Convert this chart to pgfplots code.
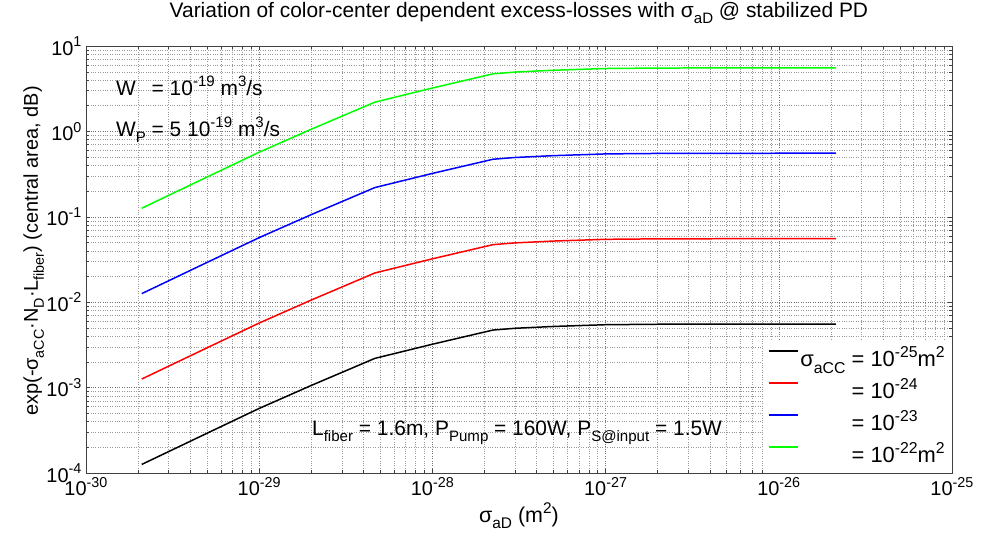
\documentclass[border=0pt]{standalone}
\usepackage{fontspec}
\setmainfont{Liberation Sans}
\usepackage{graphicx}
\usepackage{pgfplots}
\pgfplotsset{compat=1.18}
\newcommand\sbs[1]{\raisebox{-0.30em}{\scalebox{0.72}{#1}}}
\newcommand\sps[1]{\raisebox{0.42em}{\scalebox{0.72}{#1}}}
\pgfplotsset{legend image code/.code={\draw[#1] (0bp,8bp) -- (29bp,8bp);}}
\begin{document}
\begin{tikzpicture}
\begin{axis}[
 name=ax,
 xmode=log, ymode=log,
 scale only axis, width=866bp, height=427bp,
 xmin=1e-30, xmax=1e-25, ymin=1e-4, ymax=10,
 xtick={1e-30,1e-29,1e-28,1e-27,1e-26,1e-25},
 xticklabels={10\sps{-30},10\sps{-29},10\sps{-28},10\sps{-27},10\sps{-26},10\sps{-25}},
 ytick={1e-4,1e-3,1e-2,1e-1,1,10},
 yticklabels={10\sps{-4},10\sps{-3},10\sps{-2},10\sps{-1},10\sps{0},10\sps{1}},
 grid=both,
 major grid style={dotted, black!55},
 minor grid style={dotted, black!40},
 tick align=inside,
 axis line style={black!75},
 every tick/.style={black!75},
 every tick label/.append style={font=\fontsize{20}{22}\selectfont},
 xticklabel style={yshift=-1bp},
 yticklabel style={xshift=-1bp},
 title={Variation of color-center dependent excess-losses with σ\sbs{aD} @ stabilized PD},
 title style={at={(axis description cs:0.5,1.0539)}, anchor=base, font=\fontsize{21}{23}\selectfont},
 xlabel={σ\sbs{aD} (m\sps{2})},
 xlabel style={at={(axis description cs:0.5,-0.1148)}, anchor=base, font=\fontsize{21.5}{23}\selectfont},
 ylabel={exp(-σ\sbs{aCC}·N\sbs{D}·L\sbs{fiber}) (central area, dB)},
 ylabel style={at={(axis description cs:-0.0554,0.52)}, anchor=base, font=\fontsize{20}{22}\selectfont, inner sep=0pt},
 legend style={at={(1,0)}, anchor=south east, draw=none, fill=white, font=\fontsize{22}{24}\selectfont, row sep=0bp, inner xsep=5bp, inner ysep=2bp, nodes={text height=20bp, text depth=4bp, inner ysep=4bp, inner xsep=2bp}},
 legend cell align=left,
]
\addplot[black, line width=1.5pt] coordinates {
(2.1e-30,1.26e-4) (3e-30,1.78e-4) (5e-30,2.92e-4) (1e-29,5.7e-4) (2e-29,1.06e-3)
(4.66e-29,2.2e-3) (1e-28,3.22e-3) (2.24e-28,4.72e-3) (3e-28,4.95e-3) (5e-28,5.2e-3)
(1e-27,5.45e-3) (2e-27,5.52e-3) (1e-26,5.55e-3) (2.14e-26,5.55e-3)};
\addlegendentry{σ\sbs{aCC} = 10\sps{-25}m\sps{2}}
\addplot[red, line width=1.5pt] coordinates {
(2.1e-30,1.26e-3) (3e-30,1.78e-3) (5e-30,2.92e-3) (1e-29,5.7e-3) (2e-29,1.06e-2)
(4.66e-29,2.2e-2) (1e-28,3.22e-2) (2.24e-28,4.72e-2) (3e-28,4.95e-2) (5e-28,5.2e-2)
(1e-27,5.45e-2) (2e-27,5.52e-2) (1e-26,5.55e-2) (2.14e-26,5.55e-2)};
\addlegendentry{\phantom{σ\sbs{aCC}} = 10\sps{-24}}
\addplot[blue, line width=1.5pt] coordinates {
(2.1e-30,1.26e-2) (3e-30,1.78e-2) (5e-30,2.92e-2) (1e-29,5.7e-2) (2e-29,1.06e-1)
(4.66e-29,2.2e-1) (1e-28,3.22e-1) (2.24e-28,4.72e-1) (3e-28,4.95e-1) (5e-28,5.2e-1)
(1e-27,5.45e-1) (2e-27,5.52e-1) (1e-26,5.55e-1) (2.14e-26,5.55e-1)};
\addlegendentry{\phantom{σ\sbs{aCC}} = 10\sps{-23}}
\addplot[green, line width=1.5pt] coordinates {
(2.1e-30,0.126) (3e-30,0.178) (5e-30,0.292) (1e-29,0.57) (2e-29,1.06)
(4.66e-29,2.2) (1e-28,3.22) (2.24e-28,4.72) (3e-28,4.95) (5e-28,5.2)
(1e-27,5.45) (2e-27,5.52) (1e-26,5.55) (2.14e-26,5.55)};
\addlegendentry{\phantom{σ\sbs{aCC}} = 10\sps{-22}m\sps{2}}
\node[anchor=base west, inner sep=0pt, font=\fontsize{21}{23}\selectfont] at (rel axis cs:0.0346,0.885) {W\phantom{\sbs{P}} = 10\sps{-19} m\sps{3}/s};
\node[anchor=base west, inner sep=0pt, font=\fontsize{21}{23}\selectfont] at (rel axis cs:0.0346,0.789) {W\sbs{P} = 5 10\sps{-19} m\sps{3}/s};
\node[anchor=base west, inner sep=0pt, font=\fontsize{21}{23}\selectfont] at (rel axis cs:0.261,0.089) {L\sbs{fiber} = 1.6m, P\sbs{Pump} = 160W, P\sbs{S@input} = 1.5W};
\end{axis}
\pgfresetboundingbox
\path[use as bounding box] (ax.south west) ++(-86bp,-63bp) rectangle ++(988bp,536bp);
\end{tikzpicture}
\end{document}
